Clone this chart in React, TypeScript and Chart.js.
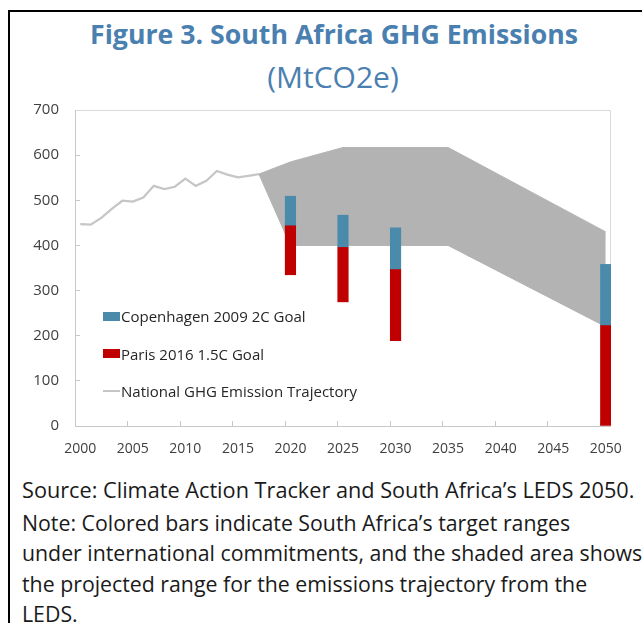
import React, { useEffect, useRef } from "react";
import { Chart, registerables } from "chart.js";

Chart.register(...registerables);

// ---------- data ----------
const firstYear = 2000;
const lastYear = 2050;
const yearLabels: string[] = [];
for (let y = firstYear; y <= lastYear; y++) yearLabels.push(String(y));

// National GHG emission trajectory, 2000-2017 (MtCO2e)
const historicalValues = [447, 446, 461, 481, 499, 497, 506, 532, 525, 530, 548, 532, 543, 565, 557, 551, 554, 558];

// LEDS projected range (shaded area)
const rangeUpperYears = ["2017", "2020", "2025", "2035", "2050"];
const rangeUpperValues = [558, 585, 617, 617, 430];
const rangeLowerYears = ["2017", "2020", "2035", "2050"];
const rangeLowerValues = [558, 400, 400, 220];

// Target bars
const targetYears = ["2020", "2025", "2030", "2050"];
const copenhagenLow = [445, 397, 348, 224];
const copenhagenHigh = [509, 467, 439, 358];
const parisLow = [335, 275, 189, 0];
const parisHigh = [445, 397, 348, 224];

const yTicks = { min: 0, max: 700, step: 100 };

const legendItems = [
  { label: "Copenhagen 2009 2C Goal", kind: "box", color: "#4a8bac" },
  { label: "Paris 2016 1.5C Goal", kind: "box", color: "#c00000" },
  { label: "National GHG Emission Trajectory", kind: "line", color: "#c6c6c6" },
];

const FONT = "'Open Sans', 'Noto Sans', sans-serif";
const AXIS_GRAY = "#c8c8c8";

export default function App() {
  const canvasRef = useRef<HTMLCanvasElement | null>(null);

  useEffect(() => {
    const canvas = canvasRef.current;
    if (!canvas) return;

    const plotBorder = {
      id: "plotBorder",
      beforeDatasetsDraw(chart: any) {
        const { ctx, chartArea } = chart;
        ctx.save();
        ctx.strokeStyle = "#d9d9d9";
        ctx.lineWidth = 1;
        ctx.beginPath();
        ctx.moveTo(Math.round(chartArea.left) + 0.5, Math.round(chartArea.top) + 0.5);
        ctx.lineTo(Math.round(chartArea.right) - 0.5, Math.round(chartArea.top) + 0.5);
        ctx.lineTo(Math.round(chartArea.right) - 0.5, Math.round(chartArea.bottom));
        ctx.stroke();
        ctx.restore();
      },
    };

    const chart = new Chart(canvas, {
      type: "bar",
      data: {
        labels: yearLabels,
        datasets: [
          {
            type: "bar",
            label: "Copenhagen 2009 2C Goal",
            data: targetYears.map((x, i) => ({ x, y: [copenhagenLow[i], copenhagenHigh[i]] })) as any,
            backgroundColor: "#4a8bac",
            borderWidth: 0,
            grouped: false,
            barPercentage: 1,
            categoryPercentage: 1,
            order: 0,
          } as any,
          {
            type: "bar",
            label: "Paris 2016 1.5C Goal",
            data: targetYears.map((x, i) => ({ x, y: [parisLow[i], parisHigh[i]] })) as any,
            backgroundColor: "#c00000",
            borderWidth: 0,
            grouped: false,
            barPercentage: 1,
            categoryPercentage: 1,
            order: 0,
          } as any,
          {
            type: "line",
            label: "National GHG Emission Trajectory",
            data: historicalValues,
            borderColor: "#c6c6c6",
            borderWidth: 2.25,
            pointRadius: 0,
            tension: 0,
            fill: false,
            order: 1,
          } as any,
          {
            type: "line",
            label: "Range upper",
            data: rangeUpperYears.map((x, i) => ({ x, y: rangeUpperValues[i] })) as any,
            borderColor: "#b3b3b3",
            borderWidth: 1,
            backgroundColor: "#b3b3b3",
            pointRadius: 0,
            tension: 0,
            fill: "+1",
            order: 2,
          } as any,
          {
            type: "line",
            label: "Range lower",
            data: rangeLowerYears.map((x, i) => ({ x, y: rangeLowerValues[i] })) as any,
            borderColor: "#b3b3b3",
            borderWidth: 1,
            pointRadius: 0,
            tension: 0,
            fill: false,
            order: 3,
          } as any,
        ],
      },
      options: {
        animation: false,
        responsive: false,
        devicePixelRatio: 1,
        layout: { padding: { top: 0, right: 26, left: 0, bottom: 0 } },
        plugins: {
          legend: { display: false },
          tooltip: { enabled: false },
          title: { display: false },
        },
        scales: {
          x: {
            type: "category",
            offset: true,
            afterFit: (s: any) => {
              s.height = 34;
            },
            grid: {
              offset: true,
              drawOnChartArea: false,
              tickLength: -5,
              color: (ctx: any) => (ctx.index % 5 === 0 ? AXIS_GRAY : "rgba(0,0,0,0)"),
            },
            border: { color: AXIS_GRAY, width: 1 },
            ticks: {
              autoSkip: false,
              maxRotation: 0,
              minRotation: 0,
              padding: 20,
              color: "#404040",
              font: { family: FONT, size: 14 },
              callback: (_v: any, i: number) => (Number(yearLabels[i]) % 5 === 0 ? yearLabels[i] : ""),
            },
          },
          y: {
            min: yTicks.min,
            max: yTicks.max,
            afterFit: (s: any) => {
              s.width = 75;
            },
            grid: {
              drawOnChartArea: false,
              tickLength: -5,
              color: AXIS_GRAY,
            },
            border: { color: AXIS_GRAY, width: 1 },
            ticks: {
              stepSize: yTicks.step,
              padding: 21,
              color: "#404040",
              font: { family: FONT, size: 15 },
            },
          },
        },
      } as any,
      plugins: [plotBorder],
    });

    return () => chart.destroy();
  }, []);

  const abs = (left: number, top: number): React.CSSProperties => ({ position: "absolute", left, top });

  return (
    <div
      style={{
        position: "absolute",
        left: 0,
        top: 0,
        width: 642,
        height: 623,
        overflow: "hidden",
        fontFamily: FONT,
        background: "#fff",
      }}
    >
      <style>{"html,body{overflow:hidden;}"}</style>
      {/* frame */}
      <div
        style={{
          ...abs(8, 10),
          width: 700,
          height: 700,
          borderTop: "2px solid #000",
          borderLeft: "2px solid #000",
        }}
      />
      {/* titles */}
      <div
        style={{
          ...abs(334, 16),
          transform: "translateX(-50%)",
          whiteSpace: "nowrap",
          fontWeight: 700,
          fontSize: 26.7,
          lineHeight: "36px",
          color: "#4a80b0",
        }}
      >
        Figure 3. South Africa GHG Emissions
      </div>
      <div
        style={{
          ...abs(333, 58),
          transform: "translateX(-50%)",
          whiteSpace: "nowrap",
          fontSize: 30,
          lineHeight: "38px",
          color: "#4a80b0",
        }}
      >
        (MtCO2e)
      </div>

      <canvas ref={canvasRef} width={642} height={380} style={{ ...abs(0, 80), width: 642, height: 380 }} />

      {/* legend */}
      {legendItems.map((it, i) => (
        <div key={it.label} style={{ ...abs(103, 305 + i * 37.5), height: 22, display: "flex", alignItems: "center" }}>
          {it.kind === "box" ? (
            <div style={{ width: 17, height: 9, background: it.color }} />
          ) : (
            <div style={{ width: 17, height: 2, background: it.color }} />
          )}
          <span style={{ fontSize: 15, color: "#262626", whiteSpace: "nowrap", marginLeft: 1 }}>{it.label}</span>
        </div>
      ))}

      {/* notes */}
      <div style={{ ...abs(22, 475), fontSize: 21.7, lineHeight: "30px", color: "#1a1a1a", whiteSpace: "nowrap" }}>
        Source: Climate Action Tracker and South Africa’s LEDS 2050.
      </div>
      <div style={{ ...abs(22, 508), fontSize: 21.3, lineHeight: "30.3px", color: "#1a1a1a", whiteSpace: "nowrap" }}>
        Note: Colored bars indicate South Africa’s target ranges
        <br />
        under international commitments, and the shaded area shows
        <br />
        the projected range for the emissions trajectory from the
        <br />
        LEDS.
      </div>
    </div>
  );
}
